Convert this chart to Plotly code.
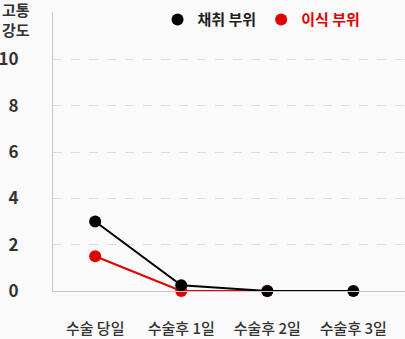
import plotly.graph_objects as go

categories = ["수술 당일", "수술후 1일", "수술후 2일", "수술후 3일"]
harvest_site = [3.0, 0.25, 0.0, 0.0]   # 채취 부위
graft_site = [1.5, 0.0, 0.0, None]     # 이식 부위
y_ticks = [0, 2, 4, 6, 8, 10]

BLACK = "#000000"
RED = "#e00000"
FONT = "Noto Sans CJK KR"

fig = go.Figure()
fig.add_trace(go.Scatter(
    x=categories, y=graft_site, name="이식 부위", mode="lines+markers",
    line=dict(color=RED, width=2), marker=dict(color=RED, size=12),
    showlegend=False, cliponaxis=False,
))
fig.add_trace(go.Scatter(
    x=categories, y=harvest_site, name="채취 부위", mode="lines+markers",
    line=dict(color=BLACK, width=2), marker=dict(color=BLACK, size=12),
    showlegend=False, cliponaxis=False,
))
# legend entries (marker only, text coloured like the series)
for name, color, txt, rank in [("채취 부위", BLACK, "#222222", 1), ("이식 부위", RED, RED, 2)]:
    fig.add_trace(go.Scatter(
        x=[None], y=[None], name=f"<span style='color:{txt}'>{name}</span>", mode="markers",
        marker=dict(color=color, size=12), legendrank=rank, showlegend=True,
    ))

fig.update_layout(
    width=405, height=339,
    margin=dict(l=53, r=0, t=12, b=48, autoexpand=False),
    paper_bgcolor="#fafafa", plot_bgcolor="#fafafa",
    font=dict(family=FONT, color="#333333"),
    showlegend=True,
    legend=dict(
        orientation="h", x=0.297, y=0.972, xanchor="left", yanchor="middle",
        font=dict(size=15, weight="bold", family=FONT), itemsizing="constant",
        bgcolor="rgba(0,0,0,0)", itemwidth=30, tracegroupgap=0,
    ),
    xaxis=dict(
        type="category", range=[-0.49, 3.6],
        showgrid=False, showline=True, linecolor="#c8c8c8", linewidth=1,
        zeroline=False, ticks="", ticklabelstandoff=24,
        tickfont=dict(size=15, color="#333333", family=FONT, weight=500),
    ),
    yaxis=dict(
        range=[0, 12.05], tickvals=y_ticks, ticktext=[str(v) for v in y_ticks],
        showgrid=True, gridcolor="#dddddd", griddash="dash", gridwidth=1,
        showline=True, linecolor="#c8c8c8", linewidth=1,
        zeroline=False, ticks="", ticklabelstandoff=30,
        tickfont=dict(size=17, color="#333333", family=FONT, weight="bold"),
    ),
    annotations=[dict(
        text="고통<br>강도", xref="paper", yref="paper", x=-0.151, y=1.055,
        xanchor="left", yanchor="top", showarrow=False, align="left",
        font=dict(size=15, color="#333333", family=FONT, weight="bold"),
    )],
)

fig.write_html("out.html")
